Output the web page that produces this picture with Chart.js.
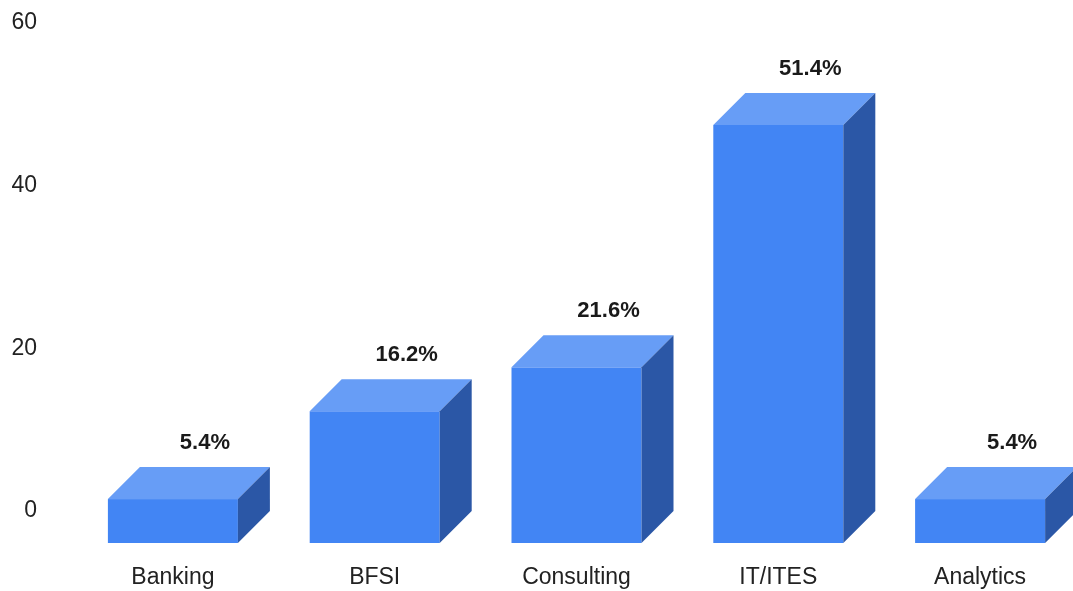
<!DOCTYPE html>
<html>
<head>
<meta charset="utf-8">
<script src="https://cdn.jsdelivr.net/npm/chart.js@4/dist/chart.umd.min.js"></script>
<style>
  html, body { margin: 0; padding: 0; background: #fff; overflow: hidden; width: 1073px; height: 591px; }
  #wrap { position: absolute; left: 0; top: 0; width: 1113px; height: 591px; }
</style>
</head>
<body>
<div id="wrap"><canvas id="c"></canvas></div>
<script>
const categories = ["Banking", "BFSI", "Consulting", "IT/ITES", "Analytics"];
const values = [5.4, 16.2, 21.6, 51.4, 5.4];
const valueLabels = ["5.4%", "16.2%", "21.6%", "51.4%", "5.4%"];
const yTicks = [0, 20, 40, 60];

const DEPTH = 32;
const FRONT = "#4285F4";
const TOP = "#679DF6";
const SIDE = "#2B57A6";
const FONT = "'Liberation Sans', Arial, sans-serif";

const bars3d = {
  id: "bars3d",
  afterDatasetsDraw(chart) {
    const ctx = chart.ctx;
    const meta = chart.getDatasetMeta(0);
    ctx.save();
    meta.data.forEach((el, i) => {
      const w = el.width;
      const D = DEPTH;
      const x0 = el.x - w / 2 - D;
      const x1 = el.x + w / 2 - D;
      const yt = el.y + D;
      const yb = el.base + D;
      ctx.fillStyle = FRONT;
      ctx.fillRect(x0, yt, x1 - x0, yb - yt);
      ctx.fillStyle = TOP;
      ctx.beginPath();
      ctx.moveTo(x0, yt);
      ctx.lineTo(x0 + D, yt - D);
      ctx.lineTo(x1 + D, yt - D);
      ctx.lineTo(x1, yt);
      ctx.closePath();
      ctx.fill();
      ctx.fillStyle = SIDE;
      ctx.beginPath();
      ctx.moveTo(x1, yt);
      ctx.lineTo(x1 + D, yt - D);
      ctx.lineTo(x1 + D, yb - D);
      ctx.lineTo(x1, yb);
      ctx.closePath();
      ctx.fill();
      ctx.fillStyle = "#1a1a1a";
      ctx.font = "bold 22px " + FONT;
      ctx.textAlign = "center";
      ctx.textBaseline = "middle";
      ctx.fillText(valueLabels[i], el.x, el.y - 24);
    });
    ctx.restore();
  }
};

new Chart(document.getElementById("c"), {
  type: "bar",
  data: {
    labels: categories,
    datasets: [{
      data: values,
      backgroundColor: "rgba(0,0,0,0)",
      borderWidth: 0,
      barThickness: 130
    }]
  },
  options: {
    responsive: true,
    maintainAspectRatio: false,
    animation: false,
    events: [],
    layout: { padding: { top: 23, left: 0, right: 0, bottom: 0 } },
    plugins: { legend: { display: false }, tooltip: { enabled: false } },
    scales: {
      x: {
        offset: true,
        grid: { display: false, drawTicks: false },
        border: { display: false },
        ticks: {
          color: "#222",
          font: { family: FONT, size: 23 },
          padding: 53,
          labelOffset: -DEPTH,
          maxRotation: 0,
          autoSkip: false
        },
        afterFit(scale) { scale.height = 80; scale.paddingLeft = 0; scale.paddingRight = 0; }
      },
      y: {
        min: 0,
        max: 60,
        grid: { display: false, drawTicks: false },
        border: { display: false },
        afterBuildTicks(scale) { scale.ticks = yTicks.map(v => ({ value: v })); },
        ticks: {
          color: "#222",
          font: { family: FONT, size: 23 },
          padding: 67
        },
        afterFit(scale) { scale.width = 104; scale.paddingTop = 0; scale.paddingBottom = 0; }
      }
    }
  },
  plugins: [bars3d]
});
</script>
</body>
</html>
